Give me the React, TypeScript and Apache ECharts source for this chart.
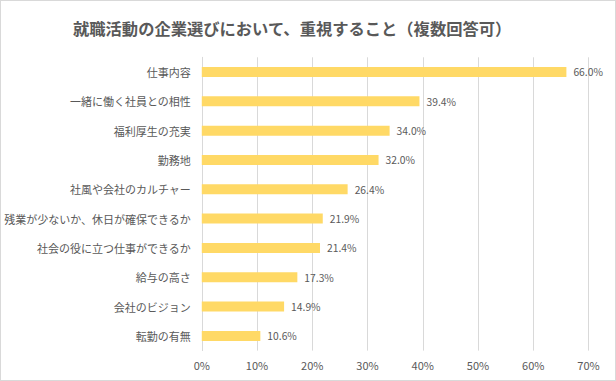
import React, { useEffect, useRef } from "react";
import * as echarts from "echarts";

const titleText = "就職活動の企業選びにおいて、重視すること（複数回答可）";
const categories = [
  "仕事内容",
  "一緒に働く社員との相性",
  "福利厚生の充実",
  "勤務地",
  "社風や会社のカルチャー",
  "残業が少ないか、休日が確保できるか",
  "社会の役に立つ仕事ができるか",
  "給与の高さ",
  "会社のビジョン",
  "転勤の有無",
];
const values = [66.0, 39.4, 34.0, 32.0, 26.4, 21.9, 21.4, 17.3, 14.9, 10.6];

const FONT = "'Noto Sans CJK JP', 'Noto Sans', sans-serif";

export default function App() {
  const ref = useRef<HTMLDivElement>(null);
  useEffect(() => {
    if (!ref.current) return;
    const chart = echarts.init(ref.current, null, { renderer: "svg" });
    chart.setOption({
      animation: false,
      backgroundColor: "#ffffff",
      title: {
        text: titleText,
        left: 67,
        top: 14,
        textStyle: {
          fontFamily: FONT,
          fontSize: 16.3,
          fontWeight: "bold",
          color: "#595959",
        },
      },
      grid: { left: 198.5, right: 26.5, top: 56.3, bottom: 29.4, containLabel: false },
      xAxis: {
        type: "value",
        min: 0,
        max: 70,
        interval: 10,
        axisLine: { show: false },
        axisTick: { show: false },
        splitLine: { lineStyle: { color: "#d9d9d9", width: 1 } },
        axisLabel: {
          formatter: "{value}%",
          fontFamily: FONT,
          fontSize: 11,
          color: "#595959",
          margin: 9,
        },
      },
      yAxis: {
        type: "category",
        data: categories,
        inverse: true,
        axisLine: { show: true, lineStyle: { color: "#d9d9d9" } },
        axisTick: { show: false },
        axisLabel: {
          fontFamily: FONT,
          fontSize: 11,
          color: "#595959",
          margin: 11,
        },
      },
      series: [
        {
          type: "bar",
          data: values,
          barWidth: 10,
          itemStyle: { color: "#ffd966" },
          label: {
            show: true,
            position: "right",
            distance: 7,
            formatter: (p: any) => Number(p.value).toFixed(1) + "%",
            fontFamily: FONT,
            fontSize: 10.3,
            color: "#595959",
          },
        },
      ],
    });
    return () => chart.dispose();
  }, []);
  return (
    <div
      style={{
        position: "fixed",
        left: 0,
        top: 0,
        width: 616,
        height: 381,
        boxSizing: "border-box",
        border: "1px solid #d9d9d9",
        background: "#fff",
      }}
    >
      <div ref={ref} style={{ width: 614, height: 379 }} />
    </div>
  );
}
